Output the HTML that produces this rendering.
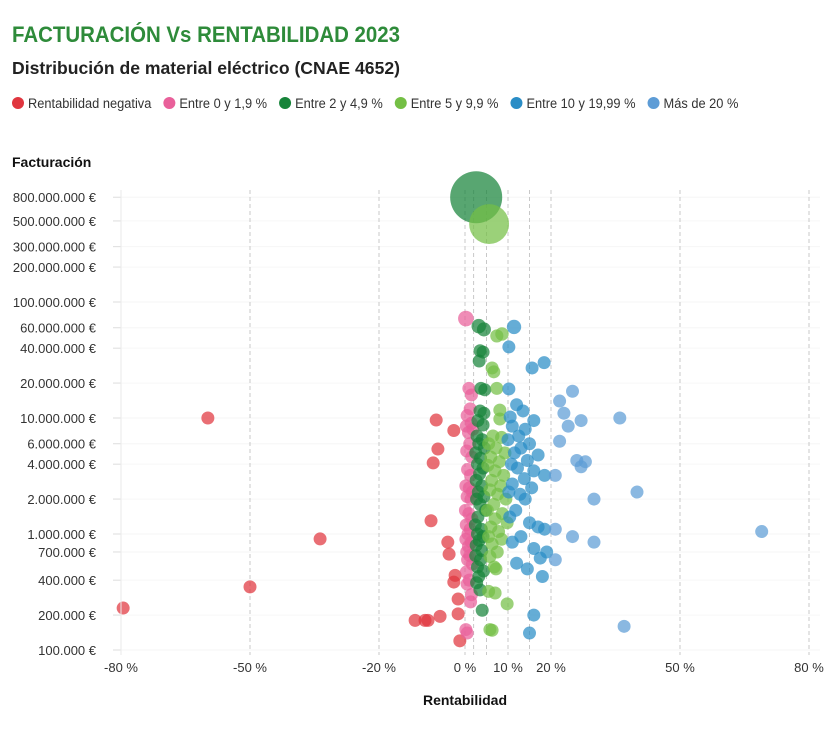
<!DOCTYPE html>
<html><head><meta charset="utf-8">
<style>
body{margin:0;background:#fff;width:840px;height:729px;overflow:hidden;font-family:"Liberation Sans",sans-serif}
svg text{font-family:"Liberation Sans",sans-serif}
</style></head>
<body>
<svg id="chart" width="840" height="729">
<text x="12" y="42" font-size="22" font-weight="bold" fill="#2e8b3a" textLength="388" lengthAdjust="spacingAndGlyphs">FACTURACIÓN Vs RENTABILIDAD 2023</text>
<text x="12" y="74" font-size="17.5" font-weight="bold" fill="#222" textLength="388" lengthAdjust="spacingAndGlyphs">Distribución de material eléctrico (CNAE 4652)</text>
<g id="legend"></g>
<text x="12" y="167" font-size="14" font-weight="bold" fill="#111">Facturación</text>
<text x="465" y="705" font-size="14" font-weight="bold" fill="#111" text-anchor="middle">Rentabilidad</text>
<g id="grid"></g><g id="marks"></g><g id="axes"></g>
</svg>
<script>
const legendLabels=["Rentabilidad negativa","Entre 0 y 1,9 %","Entre 2 y 4,9 %","Entre 5 y 9,9 %","Entre 10 y 19,99 %","Más de 20 %"];
const colors=["#e0363f","#e9609a","#17843a","#74bf45","#2a8dc6","#5d9cd6"];
const xTicks=[-80,-50,-20,0,10,20,50,80];
const xDashed=[-50,-20,0,2,5,10,15,20,50,80];
const yTicks=[8e8,5e8,3e8,2e8,1e8,6e7,4e7,2e7,1e7,6e6,4e6,2e6,1e6,7e5,4e5,2e5,1e5];
const yTickLabels=["800.000.000 €","500.000.000 €","300.000.000 €","200.000.000 €","100.000.000 €","60.000.000 €","40.000.000 €","20.000.000 €","10.000.000 €","6.000.000 €","4.000.000 €","2.000.000 €","1.000.000 €","700.000 €","400.000 €","200.000 €","100.000 €"];
const negX=[-59.8,-33.7,-50,-79.5,-6.7,-6.3,-7.4,-2.6,-7.9,-4,-3.7,-2.3,-2.6,-1.6,-5.8,-9.3,-8.6,-11.6,-1.2,-1.6];
const negY=[1e7,9.07e5,3.5e5,2.3e5,9.6e6,5.4e6,4.1e6,7.8e6,1.3e6,8.5e5,6.7e5,4.4e5,3.85e5,2.75e5,1.95e5,1.8e5,1.8e5,1.8e5,1.2e5,2.05e5];
const pinkX=[0.2,0.9,1.5,1.2,0.5,1.5,0.3,1.8,0.8,1.1,0.4,1.6,0.6,1.3,0.2,1.0,1.7,0.5,1.4,0.1,0.9,1.6,0.3,1.2,0.7,0.2,1.5,0.8,0.4,1.1,0.6,1.7,0.3,1.0,0.5,1.3,0.2,0.5,1.5];
const pinkY=[7.2e7,1.8e7,1.58e7,1.2e7,1.05e7,9e6,8.5e6,8e6,7.5e6,6e6,5.2e6,4.6e6,3.6e6,3.2e6,2.6e6,2.5e6,2.3e6,2.1e6,2e6,1.6e6,1.5e6,1.35e6,1.2e6,1.1e6,1e6,9e5,8.5e5,7.8e5,7e5,6.5e5,6e5,5.5e5,4.7e5,4e5,3.7e5,2.6e5,1.5e5,1.4e5,3e5];
const dgX=[2.6,3.2,4.4,3.5,4.2,3.3,3.7,4.6,3.5,4.4,3,4.2,2.8,4,3.2,4.5,2.5,3.6,2.9,4.2,3.4,2.6,3.9,3.1,4.4,2.7,3.5,4.8,3,2.4,3.8,2.9,4.2,3.3,2.6,3.9,2.5,3.6,2.9,4.3,3.2,2.7,3.5,4];
const dgY=[8e8,6.2e7,5.8e7,3.8e7,3.7e7,3.1e7,1.8e7,1.75e7,1.15e7,1.1e7,9.5e6,8.7e6,7e6,6.5e6,6e6,5.5e6,5e6,4.5e6,4e6,3.7e6,3.3e6,2.9e6,2.6e6,2.3e6,2.1e6,2e6,1.8e6,1.6e6,1.4e6,1.2e6,1.1e6,1e6,9.5e5,8.8e5,8e5,7.2e5,6.5e5,6e5,5.2e5,4.8e5,4.3e5,3.8e5,3.3e5,2.2e5];
const lgX=[5.6,7.4,8.6,6.3,6.7,7.4,8.1,8.1,6.5,8.5,5.5,7.2,9.3,6,8,5.3,7,9,6.2,8.3,5.8,7.6,9.5,6.7,5.2,8.7,7,9.8,6,7.8,5.5,8.5,6.3,7.5,5.8,6.8,7.2,5.5,7,9.8,5.8,6.3];
const lgY=[4.7e8,5.1e7,5.3e7,2.7e7,2.5e7,1.8e7,1.17e7,9.8e6,7e6,6.8e6,6e6,5.5e6,5e6,4.6e6,4.2e6,3.9e6,3.5e6,3.2e6,2.9e6,2.6e6,2.4e6,2.2e6,2e6,1.8e6,1.6e6,1.5e6,1.35e6,1.25e6,1.15e6,1.05e6,9.5e5,9e5,8.2e5,7e5,6.4e5,5.2e5,5e5,3.2e5,3.1e5,2.5e5,1.5e5,1.48e5];
const blX=[11.4,10.2,18.4,15.6,10.2,12,13.5,10.5,16,11,14,12.5,10,15,13,11.5,17,14.5,10.8,12.2,16,18.5,13.8,11,15.5,10.2,12.8,14,11.8,10.4,15,17,18.5,13,11,16,19,17.5,12,14.5,18,16,15];
const blY=[6.1e7,4.1e7,3e7,2.7e7,1.78e7,1.3e7,1.15e7,1.02e7,9.5e6,8.5e6,8e6,7e6,6.5e6,6e6,5.5e6,5e6,4.8e6,4.3e6,4e6,3.7e6,3.5e6,3.2e6,3e6,2.7e6,2.5e6,2.3e6,2.2e6,2e6,1.6e6,1.4e6,1.25e6,1.15e6,1.1e6,9.5e5,8.5e5,7.5e5,7e5,6.2e5,5.6e5,5e5,4.3e5,2e5,1.4e5];
const hiX=[22,25,23,27,36,24,22,26,27,28,30,40,21,21,25,30,69,37,21];
const hiY=[1.4e7,1.7e7,1.1e7,9.5e6,1e7,8.5e6,6.3e6,4.3e6,3.8e6,4.2e6,2e6,2.3e6,3.2e6,1.1e6,9.5e5,8.5e5,1.05e6,1.6e5,6e5];
const groups=[[negX,negY],[pinkX,pinkY],[dgX,dgY],[lgX,lgY],[blX,blY],[hiX,hiY]];
const groupNames=["negative","pink","dark-green","light-green","blue","light-blue"];

const NS="http://www.w3.org/2000/svg";
const xS=p=>465+4.3*p;
const yS=v=>650-116*Math.log10(v/1e5);
const rS=v=>Math.max(6.5,0.00092*Math.sqrt(v));
function mk(t,a,parent){const e=document.createElementNS(NS,t);for(const k in a)e.setAttribute(k,a[k]);parent.appendChild(e);return e;}
const grid=document.getElementById('grid'),marks=document.getElementById('marks'),axes=document.getElementById('axes'),leg=document.getElementById('legend');
let lx=12;
legendLabels.forEach((l,i)=>{
 const c=mk('circle',{cx:lx+6,cy:103,r:6,fill:colors[i]},leg);
 
 
 const t=mk('text',{x:lx+16,y:108,'font-size':13.5,fill:'#333'},leg);
 t.textContent=l;
 
 
 const w=t.getComputedTextLength()*0.95;
 t.setAttribute('textLength',w);
 t.setAttribute('lengthAdjust','spacingAndGlyphs');
 lx+=16+w+12;
});
yTicks.forEach((v,i)=>{
 const y=yS(v);
 const g=mk('line',{x1:121,x2:820,y1:y,y2:y,stroke:'#f6f6f6','stroke-width':1},grid);
 
 
 const tk=mk('line',{x1:113,x2:121,y1:y,y2:y,stroke:'#ddd'},axes);
 
 
 const t=mk('text',{x:96,y:y+5,'font-size':13,fill:'#333','text-anchor':'end'},axes);
 t.textContent=yTickLabels[i];
 
 
});
const ax=mk('line',{x1:121,x2:121,y1:190,y2:655,stroke:'#eaeaea'},axes);


xDashed.forEach(p=>{
 const l=mk('line',{x1:xS(p),x2:xS(p),y1:190,y2:655,stroke:'#c8c8c8','stroke-dasharray':'4,3','stroke-width':1},grid);
 
 
});
xTicks.forEach(p=>{
 const t=mk('text',{x:xS(p),y:672,'font-size':13,fill:'#333','text-anchor':'middle'},axes);
 t.textContent=p+' %';
 
 
});
groups.forEach((g,gi)=>{
 g[0].forEach((x,i)=>{
  const v=g[1][i];
  const c=mk('circle',{cx:xS(x),cy:yS(v),r:rS(v),fill:colors[gi],'fill-opacity':0.72},marks);
  
  
 });
});
</script>
</body></html>
